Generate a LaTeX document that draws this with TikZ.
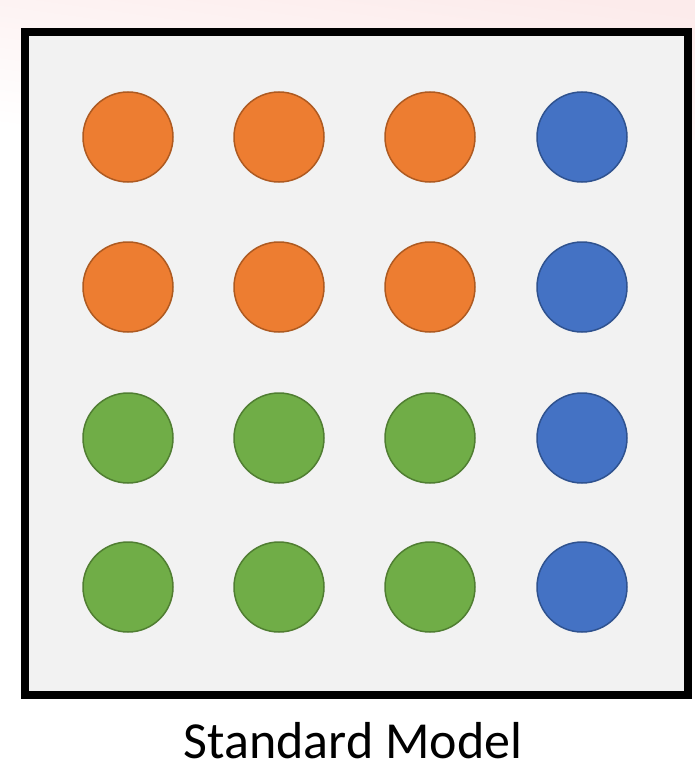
\documentclass[tikz,border=0pt]{standalone}
\usepackage{fontspec}
\setmainfont{Carlito}
\definecolor{bgray}{HTML}{F2F2F2}
\definecolor{orfill}{HTML}{ED7D31}
\definecolor{ordraw}{HTML}{AE5A21}
\definecolor{grfill}{HTML}{70AD47}
\definecolor{grdraw}{HTML}{507E32}
\definecolor{blfill}{HTML}{4472C4}
\definecolor{bldraw}{HTML}{2F528F}
\definecolor{pinkish}{HTML}{FCEBEB}
\tikzset{
  ball/.style={circle, minimum size=90pt, inner sep=0pt, line width=1.5pt},
  orball/.style={ball, fill=orfill, draw=ordraw},
  grball/.style={ball, fill=grfill, draw=grdraw},
  blball/.style={ball, fill=blfill, draw=bldraw},
}
\begin{document}
\begin{tikzpicture}[x=1pt,y=-1pt]
\useasboundingbox (0,0) rectangle (695,773);
\shade[top color=pinkish, bottom color=white, shading angle=-8] (0,0) rectangle (695,140);
\fill[white] (0,140) rectangle (695,773);
\draw[line width=8pt, fill=bgray] (25,32) rectangle (688,695);
\node[orball] (a1) at (128,137) {};
\node[orball] (a2) at (279,137) {};
\node[orball] (a3) at (430,137) {};
\node[blball] (a4) at (582,137) {};
\node[orball] (b1) at (128,287) {};
\node[orball] (b2) at (279,287) {};
\node[orball] (b3) at (430,287) {};
\node[blball] (b4) at (582,287) {};
\node[grball] (c1) at (128,438) {};
\node[grball] (c2) at (279,438) {};
\node[grball] (c3) at (430,438) {};
\node[blball] (c4) at (582,438) {};
\node[grball] (d1) at (128,587) {};
\node[grball] (d2) at (279,587) {};
\node[grball] (d3) at (430,587) {};
\node[blball] (d4) at (582,587) {};
\node[anchor=base, font=\fontsize{52}{58}\selectfont, inner sep=0pt] (lbl) at (353,758) {Standard Model};
\end{tikzpicture}
\end{document}
